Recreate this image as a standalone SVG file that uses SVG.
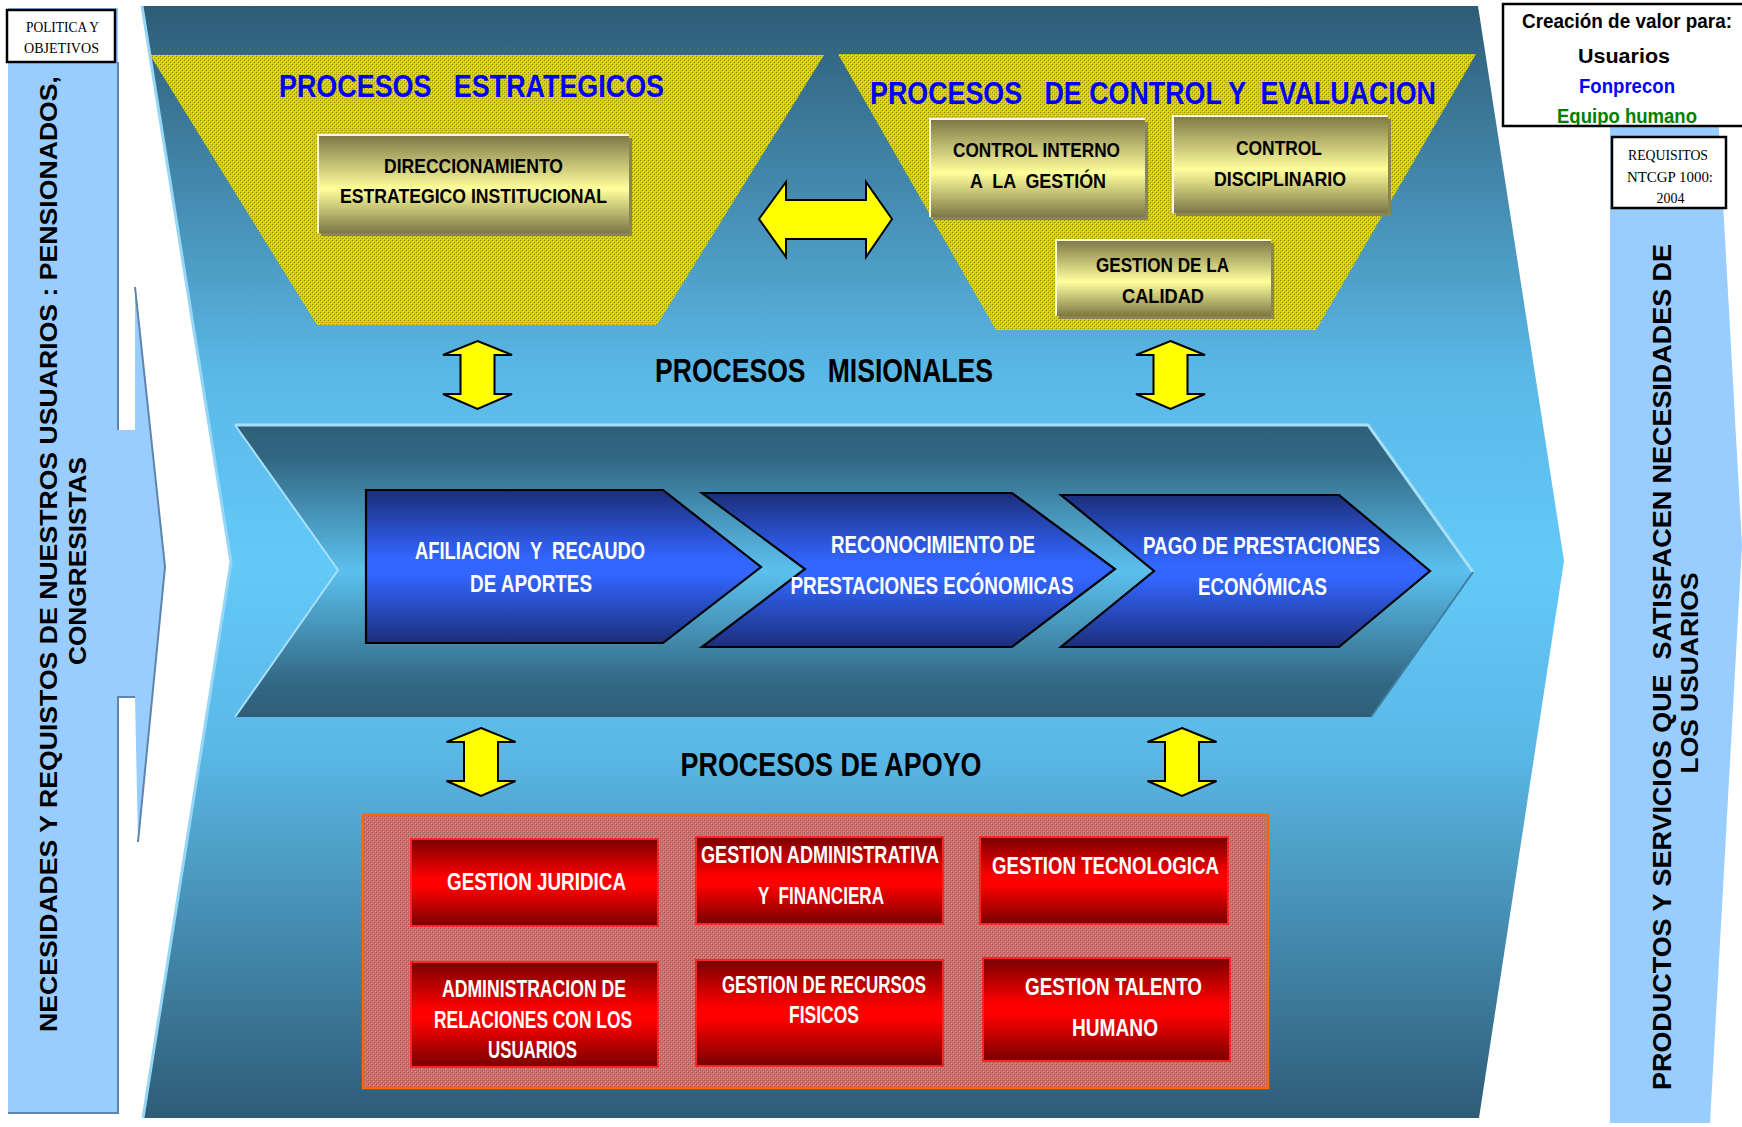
<svg xmlns="http://www.w3.org/2000/svg" width="1742" height="1127" viewBox="0 0 1742 1127">
<defs>
<style>
.nb{font-family:"Liberation Sans Narrow","Liberation Sans",Arial,sans-serif;font-weight:bold;text-anchor:middle;white-space:pre}
.ab{font-family:"Liberation Sans",Arial,sans-serif;font-weight:bold;text-anchor:middle;white-space:pre}
.sf{font-family:"Liberation Serif","Times New Roman",serif;text-anchor:middle;font-size:15px;fill:#000}
.gold{fill:url(#gGold)}
.goldsh{fill:#8a8652}
.goldhl{fill:none;stroke:#fbfbd8;stroke-width:2}
.gt{font-size:21px;fill:#000}
.red{fill:url(#gRed);stroke:#ff2424;stroke-width:2}
.rt{font-size:23px;fill:#fff}
.blu{fill:url(#gBlue);stroke:#000;stroke-width:2.2;stroke-linejoin:miter}
.bt{font-size:24px;fill:#fff}
.yarr{fill:#FFFF00;stroke:#000;stroke-width:2;stroke-linejoin:miter}
.strip{fill:#99CCFF}
.edge{fill:none;stroke:#5f85ad;stroke-width:2}
</style>
<linearGradient id="gMain" x1="0" y1="0" x2="0" y2="1">
<stop offset="0" stop-color="#2E5C76"/>
<stop offset="0.33" stop-color="#5AB8E6"/>
<stop offset="0.5" stop-color="#63C9F9"/>
<stop offset="0.67" stop-color="#5AB8E6"/>
<stop offset="1" stop-color="#2E5C76"/>
</linearGradient>
<linearGradient id="gBand" x1="0" y1="0" x2="0" y2="1">
<stop offset="0" stop-color="#2F5F78"/>
<stop offset="0.12" stop-color="#326884"/>
<stop offset="0.5" stop-color="#5CC0EE"/>
<stop offset="0.88" stop-color="#326884"/>
<stop offset="1" stop-color="#2F5F78"/>
</linearGradient>
<linearGradient id="gBlue" x1="0" y1="0" x2="0" y2="1">
<stop offset="0" stop-color="#1B2E7A"/>
<stop offset="0.45" stop-color="#3366FF"/>
<stop offset="0.55" stop-color="#3366FF"/>
<stop offset="1" stop-color="#1B2E7A"/>
</linearGradient>
<linearGradient id="gGold" x1="0" y1="0" x2="0" y2="1">
<stop offset="0" stop-color="#7D7746"/>
<stop offset="0.55" stop-color="#FFFF9C"/>
<stop offset="1" stop-color="#7D7746"/>
</linearGradient>
<linearGradient id="gRed" x1="0" y1="0" x2="0" y2="1">
<stop offset="0" stop-color="#780000"/>
<stop offset="0.45" stop-color="#FF0000"/>
<stop offset="0.55" stop-color="#FF0000"/>
<stop offset="1" stop-color="#780000"/>
</linearGradient>
<pattern id="pYel" width="4" height="4" patternUnits="userSpaceOnUse">
<rect width="4" height="4" fill="#D4CE00"/>
<rect x="0" y="0" width="1" height="1" fill="#8A8610"/>
<rect x="2" y="2" width="1" height="1" fill="#8A8610"/>
<rect x="1" y="1" width="1" height="1" fill="#F0EC20"/>
<rect x="3" y="3" width="1" height="1" fill="#F0EC20"/>
</pattern>
<pattern id="pRed" width="4" height="4" patternUnits="userSpaceOnUse">
<rect width="4" height="4" fill="#CD6A6A"/>
<rect x="0" y="0" width="1" height="1" fill="#9C6262"/>
<rect x="2" y="2" width="1" height="1" fill="#9C6262"/>
<rect x="1" y="1" width="1" height="1" fill="#E89292"/>
<rect x="3" y="3" width="1" height="1" fill="#E89292"/>
</pattern>
<path id="vArrow" d="M0,0 L34.5,14 L17,14 L17,53 L34.5,53 L0,68 L-34.5,53 L-17,53 L-17,14 L-34.5,14 Z"/>
<clipPath id="cCre"><rect x="1503" y="4" width="240" height="121"/></clipPath>
</defs>

<rect width="1742" height="1127" fill="#FFFFFF"/>

<g id="input-strip">
<polygon class="strip" points="8,8 118,8 118,430 135,430 135,287 165,567 138,842 135,697 118,697 118,1113 8,1113"/>
<polyline class="edge" points="118,62 118,430"/>
<polyline class="edge" points="135,287 165,567 138,842"/>
<polyline class="edge" points="135,697 118,697 118,1113 8,1113"/>
<text class="ab" font-size="24" fill="#000" transform="translate(57,554) rotate(-90)" textLength="956" lengthAdjust="spacingAndGlyphs">NECESIDADES Y REQUISTOS DE NUESTROS USUARIOS : PENSIONADOS,</text>
<text class="ab" font-size="24" fill="#000" transform="translate(86,561) rotate(-90)" textLength="208" lengthAdjust="spacingAndGlyphs">CONGRESISTAS</text>
</g>

<g id="output-strip">
<polygon class="strip" points="1610,4 1712,4 1742,545 1710,1123 1610,1123"/>
<text class="nb" font-size="25" fill="#000" transform="translate(1671,667) rotate(-90)" textLength="846" lengthAdjust="spacingAndGlyphs">PRODUCTOS Y SERVICIOS QUE  SATISFACEN NECESIDADES DE</text>
<text class="nb" font-size="24" fill="#000" transform="translate(1698,673) rotate(-90)" textLength="201" lengthAdjust="spacingAndGlyphs">LOS USUARIOS</text>
</g>

<g id="process-map">
<polygon points="142,6 1478,6 1564,561 1479,1118 143,1118 231,562" fill="url(#gMain)"/>
<polyline points="142,6 231,562 143,1118" fill="none" stroke="#96D6F6" stroke-width="3"/>
</g>

<g id="strategic">
<polygon points="150,55 824,55 657,325 317,325" fill="url(#pYel)"/>
<text class="nb" x="471.5" y="97" font-size="32" fill="#0000FF" textLength="385" lengthAdjust="spacingAndGlyphs">PROCESOS   ESTRATEGICOS</text>
</g>

<g id="control">
<polygon points="838,54 1476,54 1316,330 996,330" fill="url(#pYel)"/>
<text class="nb" x="1153" y="104" font-size="31" fill="#0000FF" textLength="566" lengthAdjust="spacingAndGlyphs">PROCESOS   DE CONTROL Y  EVALUACION</text>
</g>

<g id="direccionamiento">
<rect class="goldsh" x="321" y="138" width="311" height="98"/>
<rect class="gold" x="318" y="135" width="311" height="98"/>
<polyline class="goldhl" points="318,233 318,135 629,135"/>
<text class="nb gt" x="473.5" y="173" textLength="179" lengthAdjust="spacingAndGlyphs">DIRECCIONAMIENTO</text>
<text class="nb gt" x="473.5" y="203" textLength="267" lengthAdjust="spacingAndGlyphs">ESTRATEGICO INSTITUCIONAL</text>
</g>

<g id="control-interno">
<rect class="goldsh" x="933" y="122" width="215" height="98"/>
<rect class="gold" x="930" y="119" width="215" height="98"/>
<polyline class="goldhl" points="930,217 930,119 1145,119"/>
<text class="nb gt" x="1036.5" y="157" textLength="167" lengthAdjust="spacingAndGlyphs">CONTROL INTERNO</text>
<text class="nb gt" x="1038" y="188" textLength="136" lengthAdjust="spacingAndGlyphs">A  LA  GESTIÓN</text>
</g>

<g id="control-disciplinario">
<rect class="goldsh" x="1176" y="119" width="215" height="97"/>
<rect class="gold" x="1173" y="116" width="215" height="97"/>
<polyline class="goldhl" points="1173,213 1173,116 1388,116"/>
<text class="nb gt" x="1279" y="155" textLength="86" lengthAdjust="spacingAndGlyphs">CONTROL</text>
<text class="nb gt" x="1280" y="186" textLength="132" lengthAdjust="spacingAndGlyphs">DISCIPLINARIO</text>
</g>

<g id="gestion-calidad">
<rect class="goldsh" x="1059" y="243" width="215" height="76"/>
<rect class="gold" x="1056" y="240" width="215" height="76"/>
<polyline class="goldhl" points="1056,316 1056,240 1271,240"/>
<text class="nb gt" x="1162.5" y="272" textLength="133" lengthAdjust="spacingAndGlyphs">GESTION DE LA</text>
<text class="nb gt" x="1163" y="303" textLength="82" lengthAdjust="spacingAndGlyphs">CALIDAD</text>
</g>

<g id="misionales-label">
<text class="nb" x="824" y="382" font-size="33" fill="#000" textLength="338" lengthAdjust="spacingAndGlyphs">PROCESOS   MISIONALES</text>
</g>

<g id="misionales-band">
<polygon points="235,425 1368,425 1473,572 1371,717 235,717 338,570" fill="url(#gBand)"/>
<polyline points="235,425 1368,425 1473,572" fill="none" stroke="#A8E0F8" stroke-width="3"/>
<polyline points="235,425 338,570 235,717" fill="none" stroke="#A8E0F8" stroke-width="2"/>
<polyline points="1473,572 1371,717" fill="none" stroke="#3f7fa0" stroke-width="2"/>
</g>

<g id="afiliacion">
<polygon class="blu" points="366,490 663,490 761,567 663,643 366,643"/>
<text class="nb bt" x="530" y="559" textLength="230" lengthAdjust="spacingAndGlyphs">AFILIACION  Y  RECAUDO</text>
<text class="nb bt" x="531" y="592" textLength="122" lengthAdjust="spacingAndGlyphs">DE APORTES</text>
</g>

<g id="reconocimiento">
<polygon class="blu" points="702,493 1012,493 1115,569 1012,647 702,647 805,569"/>
<text class="nb bt" x="933" y="553" textLength="204" lengthAdjust="spacingAndGlyphs">RECONOCIMIENTO DE</text>
<text class="nb bt" x="932" y="594" textLength="283" lengthAdjust="spacingAndGlyphs">PRESTACIONES ECÓNOMICAS</text>
</g>

<g id="pago">
<polygon class="blu" points="1061,495 1339,495 1430,571 1339,647 1061,647 1154,571"/>
<text class="nb bt" x="1261.5" y="554" textLength="237" lengthAdjust="spacingAndGlyphs">PAGO DE PRESTACIONES</text>
<text class="nb bt" x="1262.5" y="595" textLength="129" lengthAdjust="spacingAndGlyphs">ECONÓMICAS</text>
</g>

<g id="apoyo-label">
<text class="nb" x="831" y="776" font-size="33" fill="#000" textLength="301" lengthAdjust="spacingAndGlyphs">PROCESOS DE APOYO</text>
</g>

<g id="apoyo-area">
<rect x="363" y="815" width="905" height="273" fill="url(#pRed)" stroke="#FF6600" stroke-width="2.5"/>
</g>

<g id="gestion-juridica">
<rect class="red" x="411" y="839" width="247" height="87"/>
<text class="nb rt" x="536.5" y="890" textLength="179" lengthAdjust="spacingAndGlyphs">GESTION JURIDICA</text>
</g>
<g id="gestion-administrativa">
<rect class="red" x="696" y="837" width="247" height="87"/>
<text class="nb rt" x="820" y="863" textLength="238" lengthAdjust="spacingAndGlyphs">GESTION ADMINISTRATIVA</text>
<text class="nb rt" x="821" y="904" textLength="126" lengthAdjust="spacingAndGlyphs">Y  FINANCIERA</text>
</g>
<g id="gestion-tecnologica">
<rect class="red" x="980" y="837" width="248" height="87"/>
<text class="nb rt" x="1105.5" y="874" textLength="227" lengthAdjust="spacingAndGlyphs">GESTION TECNOLOGICA</text>
</g>
<g id="relaciones-usuarios">
<rect class="red" x="411" y="962" width="247" height="105"/>
<text class="nb rt" x="534" y="997" textLength="184" lengthAdjust="spacingAndGlyphs">ADMINISTRACION DE</text>
<text class="nb rt" x="533" y="1028" textLength="198" lengthAdjust="spacingAndGlyphs">RELACIONES CON LOS</text>
<text class="nb rt" x="532.5" y="1058" textLength="89" lengthAdjust="spacingAndGlyphs">USUARIOS</text>
</g>
<g id="recursos-fisicos">
<rect class="red" x="696" y="960" width="247" height="106"/>
<text class="nb rt" x="824" y="993" textLength="204" lengthAdjust="spacingAndGlyphs">GESTION DE RECURSOS</text>
<text class="nb rt" x="824" y="1023" textLength="70" lengthAdjust="spacingAndGlyphs">FISICOS</text>
</g>
<g id="talento-humano">
<rect class="red" x="983" y="958" width="247" height="103"/>
<text class="nb rt" x="1113.5" y="995" textLength="177" lengthAdjust="spacingAndGlyphs">GESTION TALENTO</text>
<text class="nb rt" x="1115" y="1036" textLength="86" lengthAdjust="spacingAndGlyphs">HUMANO</text>
</g>

<g id="connectors">
<polygon class="yarr" points="759,219 786,182 786,200 866,200 866,182 892,219 866,257 866,239 786,239 786,257"/>
<use href="#vArrow" class="yarr" x="477.5" y="341"/>
<use href="#vArrow" class="yarr" x="1170.5" y="341"/>
<use href="#vArrow" class="yarr" x="481" y="728"/>
<use href="#vArrow" class="yarr" x="1182" y="728"/>
</g>

<g id="politica">
<rect x="7" y="10" width="108" height="52" fill="#FFFFFF" stroke="#000" stroke-width="2.5"/>
<text class="sf" x="62.5" y="32" textLength="73" lengthAdjust="spacingAndGlyphs">POLITICA Y</text>
<text class="sf" x="61.5" y="53" textLength="75" lengthAdjust="spacingAndGlyphs">OBJETIVOS</text>
</g>

<g id="creacion-valor">
<rect x="1503" y="4" width="245" height="122" fill="#FFFFFF" stroke="#000" stroke-width="2.5"/>
<g clip-path="url(#cCre)">
<text class="ab" x="1627" y="28" font-size="20" fill="#000" textLength="210" lengthAdjust="spacingAndGlyphs">Creación de valor para:</text>
<text class="ab" x="1624" y="63" font-size="20" fill="#000" textLength="92" lengthAdjust="spacingAndGlyphs">Usuarios</text>
<text class="ab" x="1627" y="93" font-size="20" fill="#0000FF" textLength="96" lengthAdjust="spacingAndGlyphs">Fonprecon</text>
<text class="ab" x="1627" y="123" font-size="20" fill="#008000" textLength="140" lengthAdjust="spacingAndGlyphs">Equipo humano</text>
</g>
</g>

<g id="requisitos">
<rect x="1612" y="137" width="114" height="71" fill="#FFFFFF" stroke="#000" stroke-width="2.5"/>
<text class="sf" x="1668" y="160" textLength="80" lengthAdjust="spacingAndGlyphs">REQUISITOS</text>
<text class="sf" x="1670" y="182" textLength="86" lengthAdjust="spacingAndGlyphs">NTCGP 1000:</text>
<text class="sf" x="1670.5" y="203" textLength="28" lengthAdjust="spacingAndGlyphs">2004</text>
</g>
</svg>
